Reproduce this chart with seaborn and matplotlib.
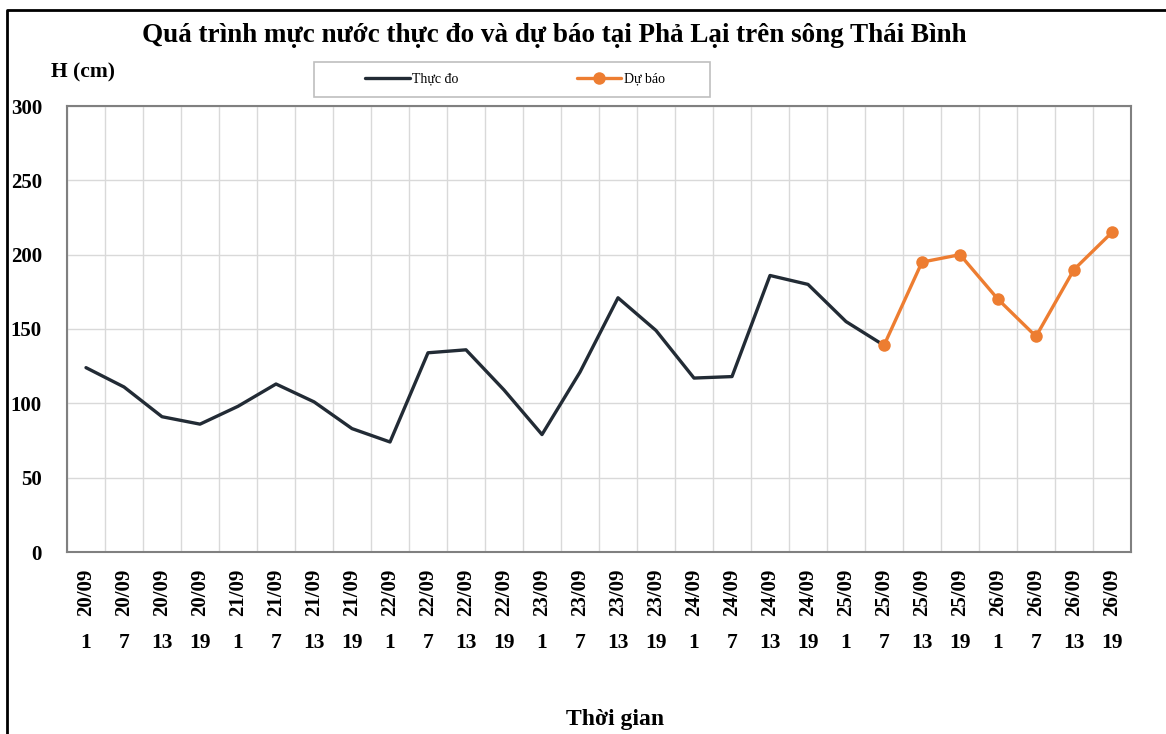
import numpy as np
import pandas as pd
import matplotlib
matplotlib.use("Agg")
import matplotlib.pyplot as plt
import seaborn as sns
from matplotlib.lines import Line2D
from matplotlib.patches import Rectangle

dates = ["20/09"] * 4 + ["21/09"] * 4 + ["22/09"] * 4 + ["23/09"] * 4 + \
    ["24/09"] * 4 + ["25/09"] * 4 + ["26/09"] * 4
hours = [1, 7, 13, 19] * 7

# observed water level (cm), 20/09 1h .. 25/09 7h
observed = [124, 111, 91, 86, 98, 113, 101, 83, 74, 134, 136, 109,
            79, 121, 171, 149, 117, 118, 186, 180, 155, 139]
# forecast, 25/09 7h .. 26/09 19h
forecast = [139, 195, 200, 170, 145, 190, 215]

n = len(dates)
df_obs = pd.DataFrame({"pos": np.arange(len(observed)), "H": observed})
df_fc = pd.DataFrame({"pos": np.arange(n - len(forecast), n), "H": forecast})

sns.set_style("white")
plt.rcParams["font.family"] = ["Liberation Serif", "DejaVu Serif"]
plt.rcParams["text.color"] = "black"
plt.rcParams["ytick.labelcolor"] = "black"

W, H = 1166, 734
fig = plt.figure(figsize=(W / 100, H / 100), dpi=100)
ax = fig.add_axes([67 / W, 1 - 552 / H, (1131 - 67) / W, (552 - 106) / H])

sns.lineplot(data=df_obs, x="pos", y="H", color="#222b35", lw=2.4,
             label="Thực đo", ax=ax)
sns.lineplot(data=df_fc, x="pos", y="H", color="#ed7d31", lw=2.4,
             marker="o", markersize=9, markeredgewidth=0,
             label="Dự báo", ax=ax)

ax.set_xlim(-0.5, n - 0.5)
ax.set_ylim(0, 300)
ax.set_yticks(range(0, 301, 50))
ax.set_yticklabels([str(v) for v in range(0, 301, 50)],
                   fontsize=15, fontweight="bold", color="black")
ax.set_xticks(np.arange(-0.5, n, 1.0))
ax.set_xticklabels([])
ax.tick_params(axis="y", length=0, pad=18)
ax.tick_params(axis="x", length=78, width=1, color="#a6a6a6", direction="out")
ax.grid(True, color="#d9d9d9", lw=1)
for s in ax.spines.values():
    s.set_color("#808080")
    s.set_linewidth(1.5)
ax.set_xlabel("")
ax.set_ylabel("")

# two level category labels
tr = ax.get_xaxis_transform()
for i in range(n):
    ax.text(i, -0.09, dates[i], transform=tr, rotation=90, ha="center",
            va="center", fontsize=15, fontweight="bold", color="black")
    ax.text(i, -0.204, str(hours[i]), transform=tr, ha="center",
            va="center", fontsize=15.5, fontweight="bold", color="black")

fig.text(554 / W, 1 - 36 / H,
         "Quá trình mực nước thực đo và dự báo tại Phả Lại trên sông Thái Bình",
         ha="center", va="center", fontsize=19.5, fontweight="bold")
fig.text(83 / W, 1 - 72 / H, "H (cm)", ha="center", va="center",
         fontsize=15.5, fontweight="bold")
fig.text(615 / W, 1 - 720 / H, "Thời gian", ha="center", va="center",
         fontsize=17, fontweight="bold")

# legend
handles, labels = ax.get_legend_handles_labels()
leg = ax.legend(handles, labels, loc="center", ncol=2, frameon=False,
                bbox_to_anchor=(515 / W, 1 - 79 / H),
                bbox_transform=fig.transFigure, fontsize=10, handlelength=3.2,
                handletextpad=0.2, columnspacing=8.5)
for t in leg.get_texts():
    t.set_color("black")
fig.patches.append(Rectangle((314 / W, 1 - 97 / H), (710 - 314) / W, 35 / H,
                             transform=fig.transFigure, fill=False,
                             edgecolor="#bfbfbf", lw=1.2))

# outer frame
fig.lines.append(Line2D([7 / W, 7 / W, 1.0], [0.0, 1 - 10 / H, 1 - 10 / H],
                        transform=fig.transFigure, color="black", lw=2))

fig.savefig("out.png", dpi=100)
